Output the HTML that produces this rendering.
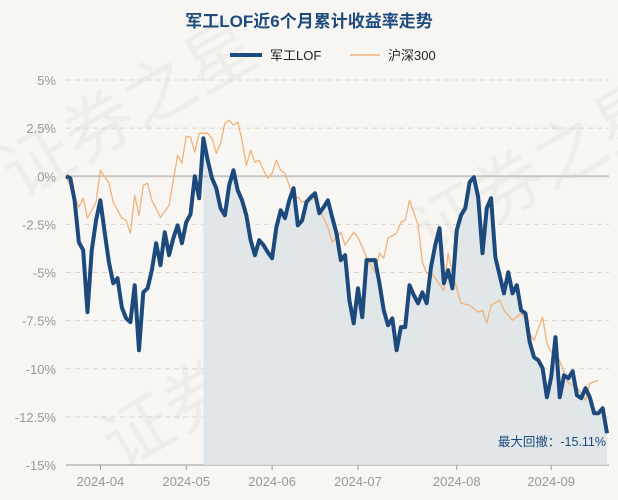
<!DOCTYPE html>
<html><head><meta charset="utf-8">
<style>
html,body{margin:0;padding:0;background:#f8f6f2;}
svg{display:block;font-family:"Liberation Sans","Noto Sans CJK SC",sans-serif;}
</style></head>
<body>
<svg id="chart" width="618" height="500" viewBox="0 0 618 500">
<rect x="0" y="0" width="618" height="500" fill="#f8f6f2"/>
<g fill="#000" fill-opacity="0.035" font-size="70">
<text x="20" y="200" transform="rotate(-30 20 200)">证券之星</text>
<text x="120" y="470" transform="rotate(-30 120 470)">证券之星</text>
<text x="430" y="260" transform="rotate(-30 430 260)">证券之星</text>
</g>
<text x="309" y="27" text-anchor="middle" font-size="17" font-weight="bold" fill="#1d4a7c">军工LOF近6个月累计收益率走势</text>
<g>
<g><line x1="230" y1="55" x2="262" y2="55" stroke="#1d4a7c" stroke-width="4"/><text x="270" y="60" font-size="13" fill="#222">军工LOF</text></g>
<g><line x1="350" y1="55" x2="380" y2="55" stroke="#f0b27a" stroke-width="1.5"/><text x="388" y="60" font-size="13" fill="#222">沪深300</text></g>
</g>
<g id="grid"></g>
<g id="yaxis"></g>
<g id="xaxis"></g>
<g id="series"></g>
<text x="606" y="446" text-anchor="end" font-size="12.5" fill="#1d4a7c">最大回撤：-15.11%</text>
</svg>
<script>
const yTicks=[5,2.5,0,-2.5,-5,-7.5,-10,-12.5,-15];
const yTickLabels=["5%","2.5%","0%","-2.5%","-5%","-7.5%","-10%","-12.5%","-15%"];
const xTickDays=[8,28,48,68,91,113];
const xTickLabels=["2024-04","2024-05","2024-06","2024-07","2024-08","2024-09"];
const fundVals=[0,-0.10,-1.25,-3.43,-3.84,-7.06,-3.84,-2.29,-1.25,-2.91,-4.47,-5.56,-5.30,-6.81,-7.38,-7.58,-5.66,-9.04,-6.03,-5.82,-4.88,-3.48,-4.62,-2.91,-4.10,-3.22,-2.55,-3.48,-2.39,-1.97,0.00,-1.14,1.97,0.83,-0.10,-0.62,-1.66,-2.03,-0.47,0.31,-0.73,-1.25,-2.03,-3.32,-4.10,-3.32,-3.58,-3.95,-4.26,-2.65,-1.77,-2.18,-1.25,-0.62,-2.55,-2.29,-1.35,-1.09,-0.88,-1.92,-1.61,-1.25,-2.13,-2.96,-4.36,-4.10,-6.44,-7.64,-5.82,-7.32,-4.36,-4.36,-4.36,-5.56,-6.96,-7.74,-7.38,-9.04,-7.84,-7.84,-5.66,-6.18,-6.60,-6.03,-6.60,-4.73,-3.58,-2.70,-5.56,-4.88,-5.82,-2.81,-2.03,-1.66,-0.31,-0.05,-1.09,-4.00,-1.66,-1.14,-4.21,-5.14,-6.08,-4.99,-6.08,-5.66,-6.96,-7.12,-8.62,-9.40,-9.56,-9.97,-11.48,-10.44,-8.36,-11.48,-10.34,-10.49,-10.13,-11.38,-11.53,-11.01,-11.48,-12.31,-12.31,-12.05,-13.35];
const hsDays=[0,3,4,5,7,8,10,11,13,14,15,16,17,18,19,20,22,24,26,27,28,29,30,31,33,34,35,36,37,38,39,40,41,42,43,44,45,46,47,48,49,50,51,53,54,55,56,58,60,61,62,64,65,67,68,70,72,73,74,75,77,78,79,80,82,83,84,85,88,89,90,92,94,96,97,98,99,101,102,104,106,107,108,109,111,112,113,114,116,117,119,121,122,124];
const hsVals=[0,-1.61,-1.14,-2.18,-1.35,0.31,-0.36,-1.35,-2.18,-2.29,-2.96,-0.99,-2.03,-0.47,-0.36,-1.25,-2.13,-1.51,1.09,0.68,2.08,2.03,1.25,2.23,2.23,1.97,1.19,1.71,2.75,2.91,2.65,2.81,1.87,0.57,1.35,0.73,0.83,0.31,-0.10,0.16,0.83,0.31,0.16,-1.14,-1.09,-1.35,-1.25,-1.14,-2.18,-2.65,-3.43,-2.91,-3.58,-2.91,-3.17,-4.21,-4.99,-4.00,-4.26,-3.22,-2.96,-2.39,-2.29,-1.25,-2.55,-4.47,-5.04,-4.99,-5.92,-4.00,-5.04,-6.60,-6.70,-7.06,-6.96,-7.64,-6.70,-6.44,-6.96,-7.48,-7.12,-7.38,-8.16,-8.52,-7.32,-8.68,-9.14,-9.04,-10.18,-10.75,-10.96,-11.64,-10.75,-10.60];

const NS="http://www.w3.org/2000/svg";
const X0=66,X1=607,Y0=80,Y1=465;
const maxDay=fundVals.length-1;
function xScale(d){return X0+(X1-X0)*d/maxDay;}
function yScale(v){return Y0+(5-v)*(Y1-Y0)/20;}
function mk(tag,attrs,parent){const e=document.createElementNS(NS,tag);for(const k in attrs)e.setAttribute(k,attrs[k]);parent.appendChild(e);return e;}
const grid=document.getElementById('grid'),ya=document.getElementById('yaxis'),xa=document.getElementById('xaxis'),ser=document.getElementById('series');
yTicks.forEach((t,i)=>{
  const y=yScale(t);
  if(t!==0&&t!==-15){const l=mk('line',{x1:X0,x2:609,y1:y,y2:y,stroke:'#d8d6d2','stroke-dasharray':'5,4'},grid);
  
  }
  const tx=mk('text',{x:56,y:y+5,'text-anchor':'end','font-size':'13',fill:'#999'},ya);
  tx.textContent=yTickLabels[i];
  
  
});
let peak=0;fundVals.forEach((v,i)=>{if(v>fundVals[peak])peak=i;});
let d='M'+xScale(peak)+','+Y1;
for(let i=peak;i<fundVals.length;i++)d+=' L'+xScale(i)+','+yScale(fundVals[i]);
d+=' L'+xScale(maxDay)+','+Y1+' Z';
const area=mk('path',{d:d,fill:'#dde3e8','fill-opacity':'0.85'},ser);


const z=mk('line',{x1:X0,x2:609,y1:yScale(0),y2:yScale(0),stroke:'#c8c6c2','stroke-width':'2'},ser);


const ax=mk('line',{x1:X0,x2:609,y1:Y1,y2:Y1,stroke:'#999','stroke-width':'1'},xa);


xTickDays.forEach((t,i)=>{
  const x=xScale(t);
  const tk=mk('line',{x1:x,x2:x,y1:Y1,y2:Y1+5,stroke:'#999'},xa);
  
  
  const tx=mk('text',{x:x,y:486,'text-anchor':'middle','font-size':'13',fill:'#999'},xa);
  tx.textContent=xTickLabels[i];
  
  
});
let p='';hsVals.forEach((v,i)=>{p+=(i?' L':'M')+xScale(hsDays[i])+','+yScale(v);});
const hs=mk('path',{d:p,fill:'none',stroke:'#f0b27a','stroke-width':'1.3','stroke-linejoin':'round'},ser);


p='';fundVals.forEach((v,i)=>{p+=(i?' L':'M')+xScale(i)+','+yScale(v);});
const fl=mk('path',{d:p,fill:'none',stroke:'#1d4a7c','stroke-width':'4','stroke-linejoin':'round'},ser);


</script>
</body></html>
